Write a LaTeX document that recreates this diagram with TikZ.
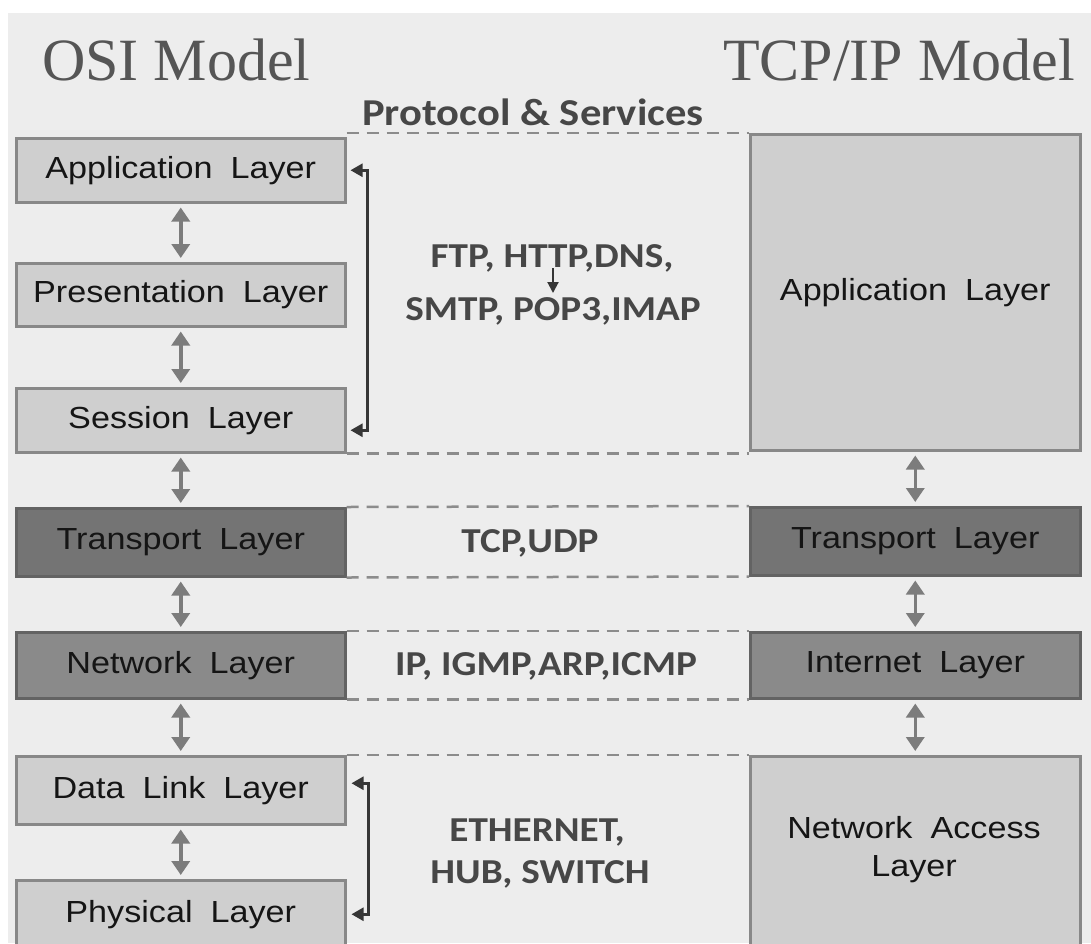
\documentclass[tikz,border=0pt]{standalone}
\usepackage{fontspec}
\usepackage{graphicx}
\setmainfont{Liberation Sans}
\newfontfamily\titlefont{Liberation Serif}
\newfontfamily\protofont{Carlito}
\usetikzlibrary{arrows.meta,calc}

\definecolor{bg}{HTML}{EDEDED}
\definecolor{lightfill}{HTML}{CFCFCF}
\definecolor{lightedge}{HTML}{888888}
\definecolor{darkfill}{HTML}{747474}
\definecolor{midfill}{HTML}{8A8A8A}
\definecolor{darkedge}{HTML}{636363}
\definecolor{labeltext}{HTML}{151515}
\definecolor{prototext}{HTML}{474747}
\definecolor{titletext}{HTML}{555555}
\definecolor{linkgray}{HTML}{7C7C7C}
\definecolor{bracketgray}{HTML}{363636}
\definecolor{dashgray}{HTML}{8C8C8C}

% horizontally widened text
\newcommand\wide[1]{\scalebox{1.12}[1]{#1}}
\newcommand\gap{\hspace{0.25em} }

\tikzset{
  layer/.style={draw=lightedge, fill=lightfill, line width=2.5pt, anchor=north west,
    inner sep=0pt, font=\fontsize{30.5}{38}\selectfont, text=labeltext, align=center},
  darklayer/.style={layer, fill=darkfill, draw=darkedge},
  midlayer/.style={layer, fill=midfill, draw=darkedge},
  updown/.style={draw=linkgray, line width=3.5pt,
    {Triangle[width=18pt,length=14pt]}-{Triangle[width=18pt,length=14pt]}},
  loopback/.style={draw=bracketgray, line width=2.5pt, line join=miter,
    {Triangle[width=13pt,length=12pt]}-{Triangle[width=13pt,length=12pt]}},
  divider/.style={draw=dashgray, line width=2.5pt, dash pattern=on 12pt off 8pt},
  proto/.style={font=\protofont\bfseries\fontsize{35}{53}\selectfont, text=prototext,
    anchor=base, inner sep=0pt},
  title/.style={font=\titlefont\fontsize{60}{70}\selectfont, text=titletext,
    inner sep=0pt},
}

\begin{document}
\begin{tikzpicture}[x=1pt, y=-1pt]
\clip (0,0) rectangle (1091,943);
\useasboundingbox (0,0) rectangle (1091,943);
\fill[white] (0,0) rectangle (1091,943);
\fill[bg] (8,13) rectangle (1091,943);

% headings
\node[title, anchor=base west] (osiTitle) at (42,80) {OSI Model};
\node[title, anchor=base east] (tcpTitle) at (1075,80) {TCP/IP Model};
\node[proto, font=\protofont\bfseries\fontsize{38}{46}\selectfont] (svcTitle) at (533,125)
  {\wide{Protocol \& Services}};

% OSI stack
\node[layer, minimum width=329pt, minimum height=64pt] (app) at (15,137) {\wide{Application\gap Layer}};
\node[layer, minimum width=329pt, minimum height=63pt] (pres) at (15,262) {\wide{Presentation\gap Layer}};
\node[layer, minimum width=329pt, minimum height=64pt] (sess) at (15,387) {\wide{Session\gap Layer}};
\node[darklayer, minimum width=329pt, minimum height=68pt] (trans) at (15,507) {\wide{Transport\gap Layer}};
\node[midlayer, minimum width=329pt, minimum height=66pt] (net) at (15,631) {\wide{Network\gap Layer}};
\node[layer, minimum width=329pt, minimum height=68pt] (dl) at (15,755) {\wide{Data\gap Link\gap Layer}};
\node[layer, minimum width=329pt, minimum height=68pt] (phys) at (15,879) {\wide{Physical\gap Layer}};

% TCP/IP stack
\node[layer, minimum width=330pt, minimum height=316pt] (rapp) at (749,133) {\wide{Application\gap Layer}};
\node[darklayer, minimum width=330pt, minimum height=68pt] (rtrans) at (749,506) {\wide{Transport\gap Layer}};
\node[midlayer, minimum width=330pt, minimum height=66pt] (rint) at (749,631) {\wide{Internet\gap Layer}};
\node[layer, minimum width=330pt, minimum height=200pt] (racc) at (749,755) {};
\node[font=\fontsize{30.5}{38}\selectfont, text=labeltext, align=center, inner sep=0pt]
  (raccLabel) at (914,850) {\wide{Network\gap Access}\\\wide{Layer}};

% dashed separators
\draw[divider] (app.east |- rapp.north) -- (rapp.north west);
\draw[divider] (sess.south east) -- (sess.south east -| rapp.west);
\draw[divider] (trans.north east) -- (rtrans.north west);
\draw[divider] (trans.south east) -- (rtrans.south west);
\draw[divider] (net.north east) -- (rint.north west);
\draw[divider] (net.south east) -- (rint.south west);
\draw[divider] (dl.north east) -- (racc.north west);

% vertical links inside each stack
\draw[updown] ([yshift=-4pt]app.south) -- ([yshift=4pt]pres.north);
\draw[updown] ([yshift=-4pt]pres.south) -- ([yshift=4pt]sess.north);
\draw[updown] ([yshift=-4pt]sess.south) -- ([yshift=4pt]trans.north);
\draw[updown] ([yshift=-4pt]trans.south) -- ([yshift=4pt]net.north);
\draw[updown] ([yshift=-4pt]net.south) -- ([yshift=4pt]dl.north);
\draw[updown] ([yshift=-4pt]dl.south) -- ([yshift=4pt]phys.north);
\draw[updown] ([yshift=-4pt]rapp.south) -- ([yshift=4pt]rtrans.north);
\draw[updown] ([yshift=-4pt]rtrans.south) -- ([yshift=4pt]rint.north);
\draw[updown] ([yshift=-4pt]rint.south) -- ([yshift=4pt]racc.north);

% grouping brackets
\draw[loopback] ([xshift=4pt]app.east) -- ++(17,0) |- ([xshift=4pt,yshift=-10pt]sess.east);
\draw[loopback] ([xshift=5pt,yshift=7pt]dl.east) -- ++(17,0) |- ([xshift=5pt]phys.east);

% protocols
\node[proto] (ftp) at (552,267) {\wide{FTP, HTTP,DNS,}};
\node[proto] (smtp) at (553,320) {\wide{SMTP, POP3,IMAP}};
\coordinate (stubTop) at (553,268);
\coordinate (stubEnd) at (553,293);
\draw[draw=bracketgray, line width=2pt, -{Triangle[width=11pt,length=11pt]}] (stubTop) -- (stubEnd);
\node[proto] (tcpudp) at (530,552) {\wide{TCP,UDP}};
\node[proto] (ipset) at (546,675) {\wide{IP, IGMP,ARP,ICMP}};
\node[proto] (eth) at (537,841) {\wide{ETHERNET,}};
\node[proto] (hub) at (540,883) {\wide{HUB, SWITCH}};
\end{tikzpicture}
\end{document}
